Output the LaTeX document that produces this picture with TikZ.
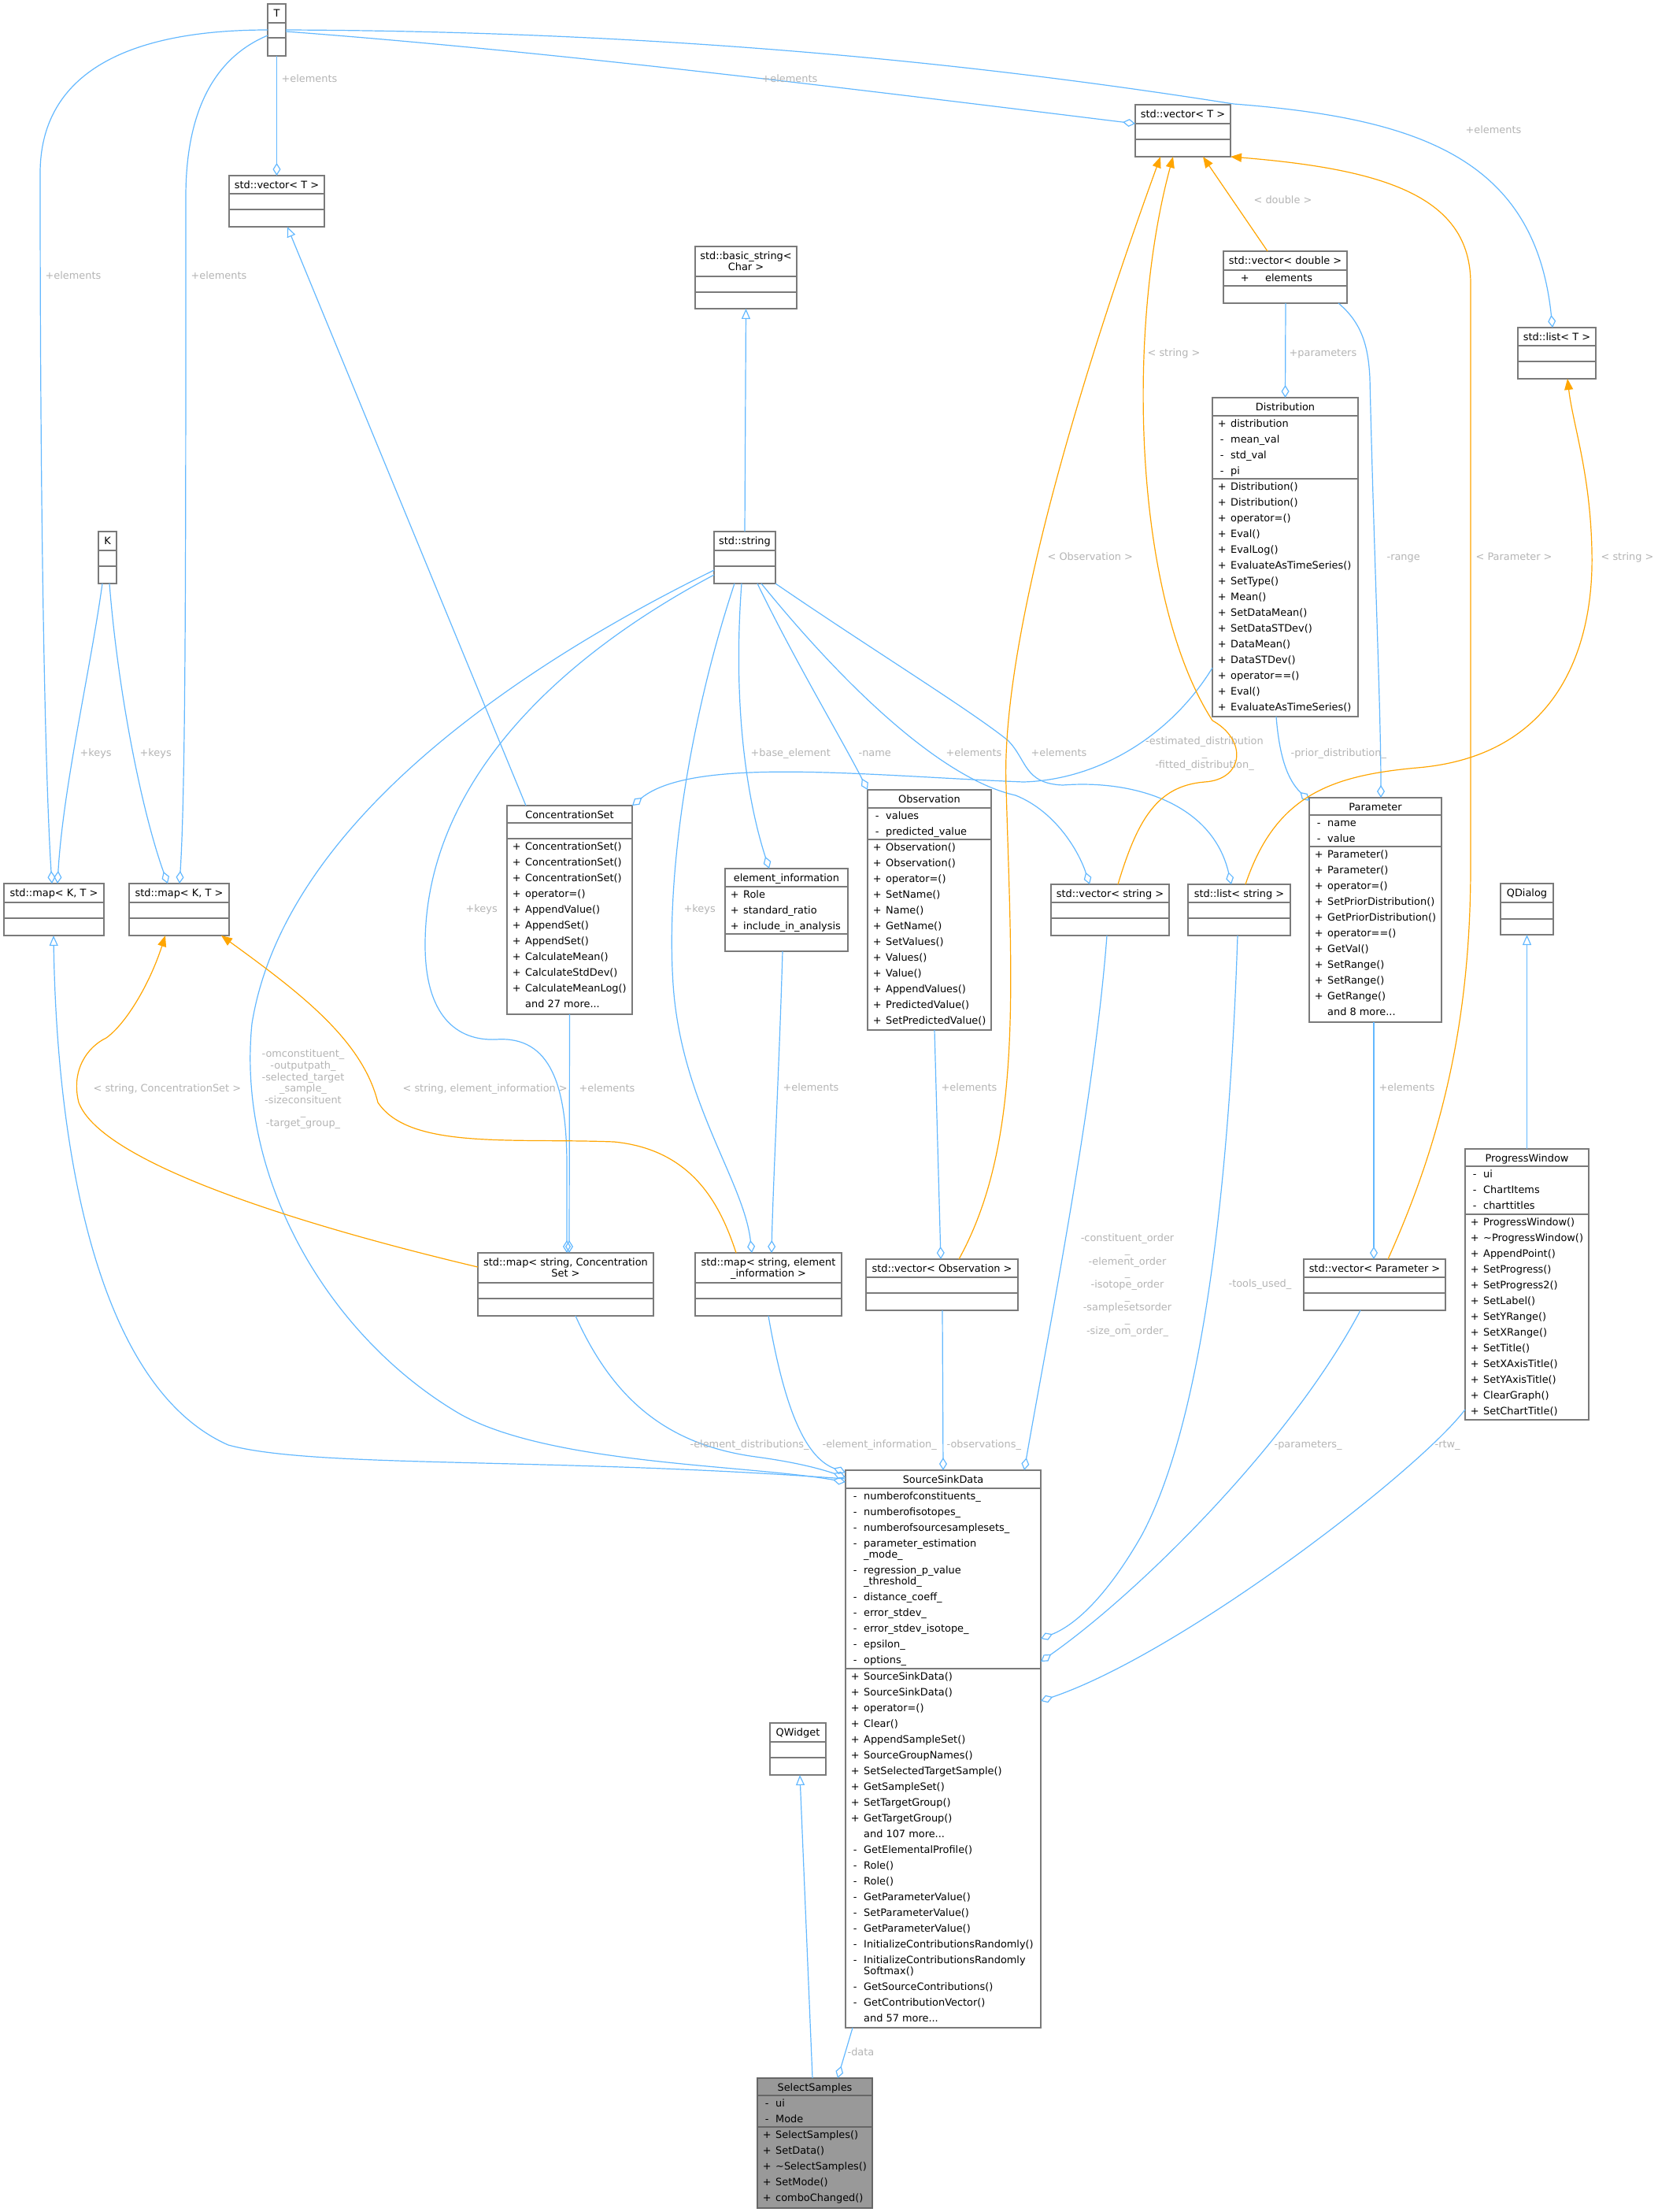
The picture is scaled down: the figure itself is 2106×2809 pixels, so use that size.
\documentclass[tikz,border=0pt]{standalone}
\usepackage{fontspec}
\setmainfont{DejaVu Sans}
\usetikzlibrary{arrows.meta}
\definecolor{edgeblue}{HTML}{63B8FF}
\definecolor{tmplorange}{HTML}{FFA500}
\definecolor{boxgray}{HTML}{7A7A7A}
\definecolor{lblgray}{HTML}{B4B4B4}
\definecolor{ssfill}{HTML}{999999}
\definecolor{ssborder}{HTML}{666666}
\tikzset{
  classbox/.style={rectangle, draw=boxgray, fill=white, line width=1.3pt, inner sep=0pt, outer sep=0pt},
  ssbox/.style={classbox, draw=ssborder, fill=ssfill},
  sepline/.style={draw=boxgray, line width=1.3pt},
  sssep/.style={draw=ssborder, line width=1.3pt},
  titletext/.style={inner xsep=0pt, inner ysep=2pt, align=center, font=\fontsize{12.9}{20}\selectfont},
  memtext/.style={inner sep=0pt, align=left, font=\fontsize{12.9}{20}\selectfont},
  lbl/.style={inner sep=0pt, text=lblgray, font=\fontsize{12.9}{14.7}\selectfont, anchor=base west},
  mlbl/.style={inner sep=0pt, text=lblgray, font=\fontsize{12.9}{14.7}\selectfont, align=center, anchor=north},
  assoc/.style={-{Diamond[open, length=16pt, width=10pt]}, draw=edgeblue, line width=1.2pt},
  inheritline/.style={-{Triangle[open, length=13pt, width=11pt]}, draw=edgeblue, line width=1.2pt},
  templ/.style={-{Triangle[length=14pt, width=11pt]}, draw=tmplorange, line width=1.2pt}
}
\newcommand{\umlbox}[7][classbox]{%
  \node[#1, minimum width=#5pt, minimum height=#6pt, anchor=north west] (#2) at (#3,#4) {};
  \node[titletext, anchor=north] at (#2.north) {\strut #7};}
\newcommand{\umlsep}[4][sepline]{\draw[#1] (#2,#3) -- ++(#4,0);}
\newcommand{\umlmembers}[3]{\node[memtext, anchor=north west] at (#1+1,#2) {\strut #3};}
\newcommand{\pub}[1]{\makebox[22pt]{+}#1}
\newcommand{\prv}[1]{\makebox[22pt]{-}#1}
\newcommand{\etc}[1]{\makebox[22pt]{}#1}

\begin{document}
\begin{tikzpicture}[x=1pt, y=-1pt]
  \useasboundingbox (0,0) rectangle (2106,2809);

  % Template and base classes
  \umlbox{T}{340}{5}{23}{66}{T}
  \umlsep{340}{29}{23} \umlsep{340}{48}{23}
  \umlbox{vecTL}{291}{223}{121}{65}{std::vector< T >}
  \umlsep{291}{246}{121} \umlsep{291}{266}{121}
  \umlbox{vecTR}{1442}{133}{121}{66}{std::vector< T >}
  \umlsep{1442}{157}{121} \umlsep{1442}{177}{121}
  \umlbox{vecdbl}{1554}{319}{157}{66}{std::vector< double >}
  \umlsep{1554}{343}{157} \umlsep{1554}{363}{157}
  \umlmembers{1554}{343}{\makebox[52pt]{+}elements}
  \umlbox{listT}{1928}{416}{99}{65}{std::list< T >}
  \umlsep{1928}{439}{99} \umlsep{1928}{459}{99}
  \umlbox{basicstr}{883}{313}{129}{79}{std::basic\_string<\\[-6pt]Char >}
  \umlsep{883}{351}{129} \umlsep{883}{371}{129}
  \umlbox{K}{125}{675}{23}{66}{K}
  \umlsep{125}{699}{23} \umlsep{125}{719}{23}
  \umlbox{string}{907}{675}{78}{66}{std::string}
  \umlsep{907}{699}{78} \umlsep{907}{719}{78}
  \umlbox{mapA}{5}{1122}{127}{66}{std::map< K, T >}
  \umlsep{5}{1146}{127} \umlsep{5}{1166}{127}
  \umlbox{mapB}{164}{1122}{127}{66}{std::map< K, T >}
  \umlsep{164}{1146}{127} \umlsep{164}{1166}{127}
  \umlbox{qdialog}{1906}{1122}{67}{65}{QDialog}
  \umlsep{1906}{1146}{67} \umlsep{1906}{1167}{67}
  \umlbox{qwidget}{978}{2188}{71}{66}{QWidget}
  \umlsep{978}{2212}{71} \umlsep{978}{2232}{71}

  % Classes
  \umlbox{dist}{1540}{505}{185}{405}{Distribution}
  \umlsep{1540}{528}{185} \umlsep{1540}{608}{185}
  \umlmembers{1540}{528}{\pub{distribution}\\\prv{mean\_val}\\\prv{std\_val}\\\prv{pi}}
  \umlmembers{1540}{608}{\pub{Distribution()}\\\pub{Distribution()}\\\pub{operator=()}\\\pub{Eval()}\\\pub{EvalLog()}\\\pub{EvaluateAsTimeSeries()}\\\pub{SetType()}\\\pub{Mean()}\\\pub{SetDataMean()}\\\pub{SetDataSTDev()}\\\pub{DataMean()}\\\pub{DataSTDev()}\\\pub{operator==()}\\\pub{Eval()}\\\pub{EvaluateAsTimeSeries()}}

  \umlbox{conc}{644}{1023}{159}{265}{ConcentrationSet}
  \umlsep{644}{1045}{159} \umlsep{644}{1065}{159}
  \umlmembers{644}{1065}{\pub{ConcentrationSet()}\\\pub{ConcentrationSet()}\\\pub{ConcentrationSet()}\\\pub{operator=()}\\\pub{AppendValue()}\\\pub{AppendSet()}\\\pub{AppendSet()}\\\pub{CalculateMean()}\\\pub{CalculateStdDev()}\\\pub{CalculateMeanLog()}\\\etc{and 27 more...}}

  \umlbox{eleminfo}{921}{1103}{156}{105}{element\_information}
  \umlsep{921}{1126}{156} \umlsep{921}{1186}{156}
  \umlmembers{921}{1126}{\pub{Role}\\\pub{standard\_ratio}\\\pub{include\_in\_analysis}}

  \umlbox{obs}{1102}{1003}{157}{305}{Observation}
  \umlsep{1102}{1026}{157} \umlsep{1102}{1066}{157}
  \umlmembers{1102}{1026}{\prv{values}\\\prv{predicted\_value}}
  \umlmembers{1102}{1066}{\pub{Observation()}\\\pub{Observation()}\\\pub{operator=()}\\\pub{SetName()}\\\pub{Name()}\\\pub{GetName()}\\\pub{SetValues()}\\\pub{Values()}\\\pub{Value()}\\\pub{AppendValues()}\\\pub{PredictedValue()}\\\pub{SetPredictedValue()}}

  \umlbox{param}{1663}{1013}{168}{285}{Parameter}
  \umlsep{1663}{1035}{168} \umlsep{1663}{1075}{168}
  \umlmembers{1663}{1035}{\prv{name}\\\prv{value}}
  \umlmembers{1663}{1075}{\pub{Parameter()}\\\pub{Parameter()}\\\pub{operator=()}\\\pub{SetPriorDistribution()}\\\pub{GetPriorDistribution()}\\\pub{operator==()}\\\pub{GetVal()}\\\pub{SetRange()}\\\pub{SetRange()}\\\pub{GetRange()}\\\etc{and 8 more...}}

  \umlbox{progress}{1861}{1459}{157}{344}{ProgressWindow}
  \umlsep{1861}{1481}{157} \umlsep{1861}{1542}{157}
  \umlmembers{1861}{1481}{\prv{ui}\\\prv{ChartItems}\\\prv{charttitles}}
  \umlmembers{1861}{1542}{\pub{ProgressWindow()}\\\pub{\textasciitilde ProgressWindow()}\\\pub{AppendPoint()}\\\pub{SetProgress()}\\\pub{SetProgress2()}\\\pub{SetLabel()}\\\pub{SetYRange()}\\\pub{SetXRange()}\\\pub{SetTitle()}\\\pub{SetXAxisTitle()}\\\pub{SetYAxisTitle()}\\\pub{ClearGraph()}\\\pub{SetChartTitle()}}

  \umlbox{vecstr}{1335}{1123}{150}{65}{std::vector< string >}
  \umlsep{1335}{1146}{150} \umlsep{1335}{1166}{150}
  \umlbox{liststr}{1509}{1123}{130}{65}{std::list< string >}
  \umlsep{1509}{1146}{130} \umlsep{1509}{1166}{130}
  \umlbox{mapconc}{607}{1591}{223}{80}{std::map< string, Concentration\\[-6pt]Set >}
  \umlsep{607}{1629}{223} \umlsep{607}{1649}{223}
  \umlbox{mapelem}{883}{1591}{186}{80}{std::map< string, element\\[-6pt]\_information >}
  \umlsep{883}{1629}{186} \umlsep{883}{1649}{186}
  \umlbox{vecobs}{1100}{1599}{193}{65}{std::vector< Observation >}
  \umlsep{1100}{1622}{193} \umlsep{1100}{1642}{193}
  \umlbox{vecpar}{1656}{1599}{180}{65}{std::vector< Parameter >}
  \umlsep{1656}{1622}{180} \umlsep{1656}{1642}{180}

  \umlbox{ssd}{1074}{1867}{248}{708}{SourceSinkData}
  \umlsep{1074}{1890}{248} \umlsep{1074}{2119}{248}
  \umlmembers{1074}{1890}{\prv{numberofconstituents\_}\\\prv{numberofisotopes\_}\\\prv{numberofsourcesamplesets\_}\\\prv{parameter\_estimation}\\[-6pt]\etc{\_mode\_}\\\prv{regression\_p\_value}\\[-6pt]\etc{\_threshold\_}\\\prv{distance\_coeff\_}\\\prv{error\_stdev\_}\\\prv{error\_stdev\_isotope\_}\\\prv{epsilon\_}\\\prv{options\_}}
  \umlmembers{1074}{2119}{\pub{SourceSinkData()}\\\pub{SourceSinkData()}\\\pub{operator=()}\\\pub{Clear()}\\\pub{AppendSampleSet()}\\\pub{SourceGroupNames()}\\\pub{SetSelectedTargetSample()}\\\pub{GetSampleSet()}\\\pub{SetTargetGroup()}\\\pub{GetTargetGroup()}\\\etc{and 107 more...}\\\prv{GetElementalProfile()}\\\prv{Role()}\\\prv{Role()}\\\prv{GetParameterValue()}\\\prv{SetParameterValue()}\\\prv{GetParameterValue()}\\\prv{InitializeContributionsRandomly()}\\\prv{InitializeContributionsRandomly}\\[-6pt]\etc{Softmax()}\\\prv{GetSourceContributions()}\\\prv{GetContributionVector()}\\\etc{and 57 more...}}

  \umlbox[ssbox]{select}{962}{2639}{146}{165}{SelectSamples}
  \umlsep[sssep]{962}{2661}{146} \umlsep[sssep]{962}{2701}{146}
  \umlmembers{962}{2661}{\prv{ui}\\\prv{Mode}}
  \umlmembers{962}{2701}{\pub{SelectSamples()}\\\pub{SetData()}\\\pub{\textasciitilde SelectSamples()}\\\pub{SetMode()}\\\pub{comboChanged()}}

  % Members (aggregation)
  \draw[assoc] (T.south) -- (vecTL.north) node[lbl] at (357,104) {+elements};
  \draw[assoc] ([yshift=-33pt]T.north west) .. controls (150,38) and (51,100) .. (51,220) .. controls (51,700) and (58,1000) .. ([xshift=61pt]mapA.north west) node[lbl] at (57,354) {+elements};
  \draw[assoc] ([yshift=-40pt]T.north west) .. controls (280,70) and (236,130) .. (236,250) .. controls (236,700) and (236,1000) .. ([xshift=64pt]mapB.north west) node[lbl] at (242,354) {+elements};
  \draw[assoc] ([yshift=-35pt]T.north east) .. controls (700,65) and (1100,115) .. ([yshift=-24pt]vecTR.north west) node[lbl] at (967,104) {+elements};
  \draw[assoc] ([yshift=-33pt]T.north east) .. controls (900,40) and (1300,90) .. (1567,132) .. controls (1800,150) and (1950,200) .. ([xshift=44pt]listT.north west) node[lbl] at (1861,169) {+elements};
  \draw[assoc] ([xshift=5pt]K.south west) .. controls (115,850) and (80,1000) .. ([xshift=68pt]mapA.north west) node[lbl] at (101,960) {+keys};
  \draw[assoc] ([xshift=14pt]K.south west) .. controls (150,880) and (180,1030) .. ([xshift=49pt]mapB.north west) node[lbl] at (177,960) {+keys};
  \draw[assoc] ([yshift=-55pt]string.north west) .. controls (700,840) and (540,1000) .. (540,1200) .. controls (540,1290) and (580,1322) .. (630,1320) .. controls (700,1315) and (720,1380) .. (720,1480) -- ([xshift=113pt]mapconc.north west) node[lbl] at (591,1158) {+keys};
  \draw[assoc] ([yshift=-49pt]string.north west) .. controls (650,850) and (360,1050) .. (320,1300) .. controls (300,1500) and (420,1700) .. (585,1796) .. controls (700,1860) and (950,1860) .. ([yshift=-15pt]ssd.north west)
    node[mlbl] at (385,1331.7) {\strut-omconstituent\_\\-outputpath\_\\-selected\_target\\\_sample\_\\-sizeconsituent\\\_\\-target\_group\_};
  \draw[assoc] ([xshift=124pt]mapconc.south west) .. controls (780,1780) and (850,1835) .. (960,1850) .. controls (1020,1858) and (1050,1868) .. ([yshift=-9pt]ssd.north west) node[lbl] at (876,1838) {-element\_distributions\_};
  \draw[assoc] ([xshift=93pt]mapelem.south west) .. controls (995,1780) and (1020,1850) .. ([yshift=-3pt]ssd.north west) node[lbl] at (1044,1838) {-element\_information\_};
  \draw[assoc] (conc.south) -- ([xshift=116pt]mapconc.north west) node[lbl] at (735,1386) {+elements};
  \draw[assoc] ([xshift=73pt]eleminfo.south west) .. controls (990,1350) and (982,1500) .. ([xshift=97pt]mapelem.north west) node[lbl] at (994,1385) {+elements};
  \draw[assoc] ([xshift=26pt]string.south west) .. controls (880,900) and (845,1100) .. (855,1250) .. controls (865,1400) and (945,1500) .. ([xshift=72pt]mapelem.north west) node[lbl] at (868,1158) {+keys};
  \draw[assoc] ([xshift=35pt]string.south west) .. controls (930,900) and (950,1020) .. ([xshift=56pt]eleminfo.north west) node[lbl] at (953,960) {+base\_element};
  \draw[assoc] ([xshift=55pt]string.south west) .. controls (1010,840) and (1070,940) .. (obs.north west) node[lbl] at (1090,960) {-name};
  \draw[assoc] ([xshift=60pt]string.south west) .. controls (1080,880) and (1200,990) .. (1290,1010) .. controls (1340,1030) and (1370,1080) .. ([xshift=49pt]vecstr.north west) node[lbl] at (1201,960) {+elements};
  \draw[assoc] (string.south east) .. controls (1100,820) and (1230,900) .. (1280,940) .. controls (1305,965) and (1300,995) .. (1350,997) .. controls (1440,990) and (1540,1020) .. ([xshift=55pt]liststr.north west) node[lbl] at (1309,960) {+elements};
  \draw[assoc] ([yshift=-343pt]dist.north west) .. controls (1490,930) and (1400,990) .. (1300,993) .. controls (1100,985) and (880,960) .. (conc.north east)
    node[mlbl] at (1530,934.7) {\strut-estimated\_distribution\\\_\\-fitted\_distribution\_};
  \draw[assoc] ([xshift=79pt]vecdbl.south west) -- (dist.north) node[lbl] at (1637,452) {+parameters};
  \draw[assoc] ([xshift=146pt]vecdbl.south west) .. controls (1730,410) and (1738,440) .. (1740,480) .. controls (1745,700) and (1754,900) .. ([xshift=91pt]param.north west) node[lbl] at (1761,711) {-range};
  \draw[assoc] ([xshift=81pt]dist.south west) .. controls (1625,960) and (1635,990) .. ([yshift=-4pt]param.north west) node[lbl] at (1639,960) {-prior\_distribution\_};
  \draw[assoc] ([xshift=82pt]param.south west) -- ([xshift=89pt]vecpar.north west) node[lbl] at (1751,1385) {+elements};
  \draw[assoc] ([xshift=85pt]obs.south west) -- ([xshift=95pt]vecobs.north west) node[lbl] at (1195,1385) {+elements};
  \draw[assoc] ([xshift=97pt]vecobs.south west) -- ([xshift=124pt]ssd.north west) node[lbl] at (1202,1838) {-observations\_};
  \draw[assoc] ([xshift=71pt]vecstr.south west) .. controls (1390,1400) and (1330,1700) .. ([xshift=227pt]ssd.north west)
    node[mlbl] at (1432,1565.7) {\strut-constituent\_order\\\_\\-element\_order\\\_\\-isotope\_order\\\_\\-samplesetsorder\\\_\\-size\_om\_order\_};
  \draw[assoc] ([xshift=63pt]liststr.south west) .. controls (1560,1550) and (1520,1820) .. (1450,1950) .. controls (1410,2020) and (1370,2062) .. ([yshift=-214pt]ssd.north east) node[lbl] at (1560,1634) {-tools\_used\_};
  \draw[assoc] ([xshift=72pt]vecpar.south west) .. controls (1640,1830) and (1450,2020) .. ([yshift=-243pt]ssd.north east) node[lbl] at (1618,1838) {-parameters\_};
  \draw[assoc] ([yshift=-331pt]progress.north west) .. controls (1800,1870) and (1500,2100) .. ([yshift=-293pt]ssd.north east) node[lbl] at (1822,1838) {-rtw\_};
  \draw[assoc] ([xshift=9pt]ssd.south west) -- ([xshift=102pt]select.north west) node[lbl] at (1076,2610) {-data};

  % Inheritance
  \draw[inheritline] (string.north) -- (basicstr.south);
  \draw[inheritline] ([xshift=24pt]conc.north west) -- ([xshift=74pt]vecTL.south west);
  \draw[inheritline] ([yshift=-11pt]ssd.north west) .. controls (700,1850) and (400,1865) .. (290,1835) .. controls (120,1760) and (72,1450) .. ([xshift=63pt]mapA.south west);
  \draw[inheritline] (progress.north) -- (qdialog.south);
  \draw[inheritline] ([xshift=70pt]select.north west) -- ([xshift=38pt]qwidget.south west);

  % Template instances
  \draw[templ] ([xshift=56pt]vecdbl.north west) -- ([xshift=86pt]vecTR.south west) node[lbl] at (1592,258) {< double >};
  \draw[templ] ([xshift=118pt]vecobs.north west) .. controls (1300,1450) and (1285,1250) .. (1278,1000) .. controls (1270,800) and (1390,430) .. ([xshift=32pt]vecTR.south west) node[lbl] at (1330,711) {< Observation >};
  \draw[templ] ([xshift=85pt]vecstr.north west) .. controls (1445,1040) and (1470,998) .. (1530,993) .. controls (1580,990) and (1585,940) .. (1540,915) .. controls (1440,760) and (1430,420) .. ([xshift=48pt]vecTR.south west) node[lbl] at (1457,452) {< string >};
  \draw[templ] ([xshift=107pt]vecpar.north west) .. controls (1830,1450) and (1868,1300) .. (1868,1100) -- (1868,360) .. controls (1868,250) and (1760,215) .. (vecTR.south east) node[lbl] at (1874,711) {< Parameter >};
  \draw[templ] ([xshift=73pt]liststr.north west) .. controls (1620,1010) and (1690,985) .. (1800,975) .. controls (1980,960) and (2025,820) .. (2022,700) .. controls (2020,600) and (1998,540) .. ([xshift=63pt]listT.south west) node[lbl] at (2033,711) {< string >};
  \draw[templ] ([yshift=-18pt]mapconc.north west) .. controls (400,1560) and (130,1480) .. (100,1400) .. controls (90,1360) and (110,1330) .. (135,1318) .. controls (160,1300) and (190,1250) .. ([xshift=46pt]mapB.south west) node[lbl] at (118,1386) {< string, ConcentrationSet >};
  \draw[templ] ([xshift=52pt]mapelem.north west) .. controls (915,1530) and (880,1460) .. (780,1450) .. controls (650,1445) and (520,1460) .. (480,1400) .. controls (460,1320) and (380,1260) .. ([xshift=117pt]mapB.south west) node[lbl] at (511,1386) {< string, element\_information >};
\end{tikzpicture}
\end{document}
